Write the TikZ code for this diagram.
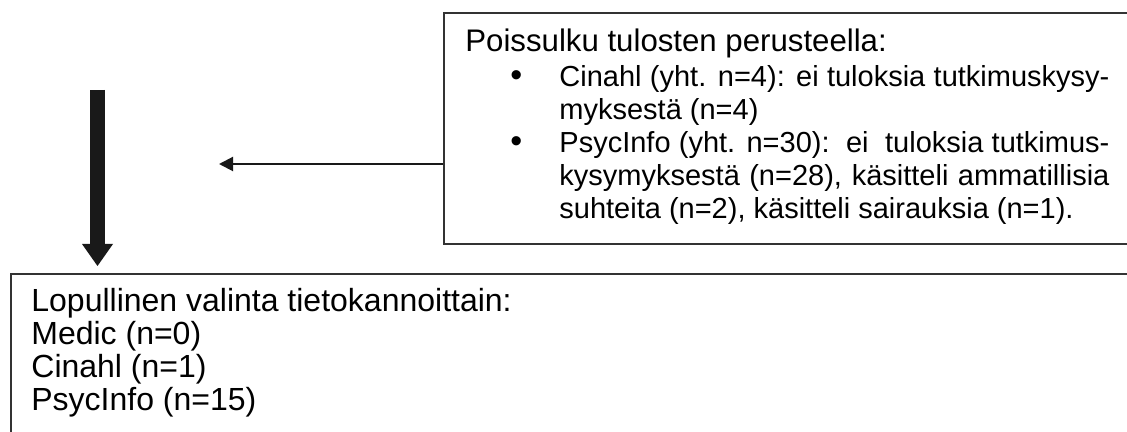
\documentclass[tikz,border=0pt]{standalone}
\usepackage{fontspec}
\setmainfont{Liberation Sans}
\usetikzlibrary{arrows.meta}
\begin{document}
\begin{tikzpicture}[x=0.5pt,y=-0.5pt,
  txt/.style={anchor=base west,inner sep=0pt,font=\fontsize{14.5}{17}\selectfont},
  headtxt/.style={anchor=base west,inner sep=0pt,font=\fontsize{15.6}{18}\selectfont},
  bottxt/.style={anchor=base west,inner sep=0pt,font=\fontsize{16}{19}\selectfont},
  bul/.style={anchor=base west,inner sep=0pt,font=\fontsize{17}{19}\selectfont},
  boxstyle/.style={draw=black!80,line width=1pt,inner sep=0pt,anchor=north west},
  thinarrow/.style={draw=black!90,line width=1pt,-{Triangle[length=7pt,width=7pt]}},
  bigarrow/.style={draw=black!90,line width=7.5pt,-{Triangle[length=11pt,width=15.5pt,line width=0pt]}}]
\useasboundingbox (0,0) rectangle (1127,432);
\clip (0,0) rectangle (1127,432);
\fill[white] (0,0) rectangle (1127,432);
% boxes
\node[boxstyle,minimum width=348.5pt,minimum height=115.5pt] (topbox) at (443,12) {};
\node[boxstyle,minimum width=565pt,minimum height=86pt] (botbox) at (10,273) {};
% top box text
\node[headtxt] (t1) at (465,52) {Poissulku tulosten perusteella:};
\node[bul] (b1) at (510,87) {•};
\node[txt] (t2) at (559,87) {\makebox[275pt][s]{Cinahl (yht. n=4): ei tuloksia tutkimuskysy-}};
\node[txt] (t3) at (559,119.5) {myksestä (n=4)};
\node[bul] (b2) at (510,152.5) {•};
\node[txt] (t4) at (559,152.5) {\makebox[275pt][s]{PsycInfo (yht. n=30):\ \ ei\ \ tuloksia tutkimus-}};
\node[txt] (t5) at (559,185.5) {\makebox[275pt][s]{kysymyksestä (n=28), käsitteli ammatillisia}};
\node[txt] (t6) at (559,218.5) {suhteita (n=2), käsitteli sairauksia (n=1).};
% bottom box text
\node[bottxt] (u1) at (31,311) {Lopullinen valinta tietokannoittain:};
\node[bottxt] (u2) at (31,344) {Medic (n=0)};
\node[bottxt] (u3) at (31,377) {Cinahl (n=1)};
\node[bottxt] (u4) at (31,410) {PsycInfo (n=15)};
% arrows
\coordinate (thintip) at (219,164);
\draw[thinarrow] (topbox.west |- thintip) -- (thintip);
\coordinate (bigsrc) at (97.5,90);
\coordinate (bigtip) at (97.5,266);
\draw[bigarrow] (bigsrc) -- (bigtip);
\end{tikzpicture}
\end{document}
